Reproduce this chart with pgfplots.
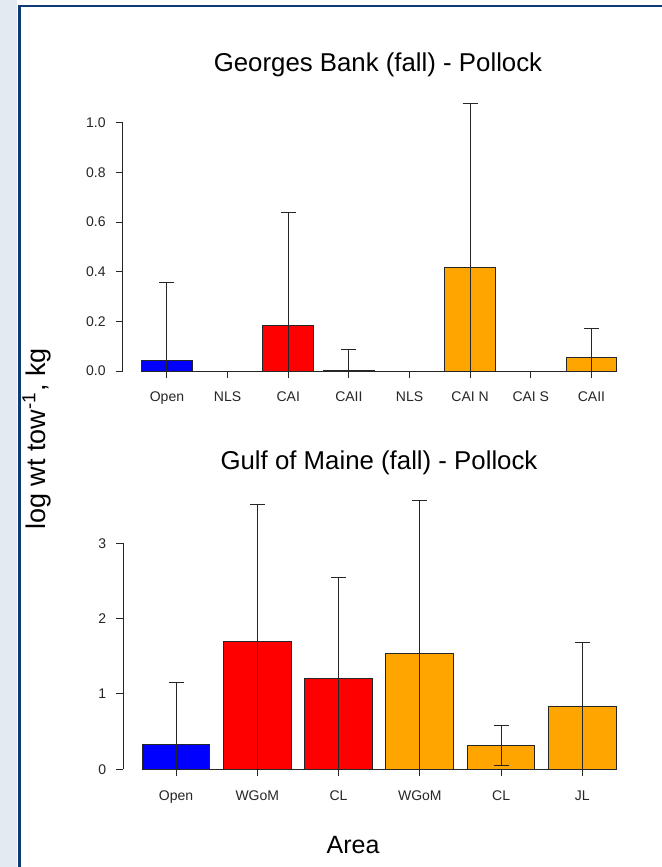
\documentclass[border=0pt]{standalone}
\usepackage{fontspec}
\setmainfont{Liberation Sans}
\usepackage{pgfplots}
\pgfplotsset{compat=1.18}

\definecolor{barblue}{RGB}{0,0,255}
\definecolor{barred}{RGB}{255,0,0}
\definecolor{barorange}{RGB}{255,165,0}
\definecolor{framenavy}{RGB}{14,58,118}
\definecolor{stripgray}{RGB}{228,234,242}
\colorlet{ink}{black!85}

\pgfplotsset{
  rbar/.style={
    scale only axis,
    clip=false,
    ymin=0,
    axis line style={draw=none},
    tick align=outside,
    xtick pos=bottom, ytick pos=left,
    major tick length=3.5pt,
    tick style={ink, line width=0.5pt},
    ticklabel style={font=\fontsize{7}{8}\selectfont, text=ink},
    xticklabel style={yshift=-3.5pt},
    yticklabel style={xshift=-1.5pt},
    bar width=0.8333,
  },
  rplot/.style={ybar, bar shift=0pt, draw=ink, line width=0.5pt},
  rerr/.style={error bars/.cd, y dir=both, y explicit,
    error bar style={ink, line width=0.5pt},
    error mark options={ink, line width=0.5pt, mark size=3.75pt, rotate=90}},
}

\begin{document}
\begin{tikzpicture}
\path[use as bounding box] (0,0) rectangle (331pt,-433.5pt);
\fill[white] (0,0) rectangle (331pt,-433.5pt);
\fill[stripgray] (0,0) rectangle (8.7pt,-433.5pt);
\draw[framenavy, line width=1.3pt] (9.6pt,-433.5pt) -- (9.6pt,-3pt) -- (331pt,-3pt);

% Georges Bank
\begin{axis}[rbar,
  at={(61.35pt,-185.5pt)}, anchor=south west,
  width=256.5pt, height=139.3pt,
  xmin=-0.73, xmax=7.73, ymax=1.122,
  xtick={0,...,7},
  xticklabels={Open,NLS,CAI,CAII,NLS,CAI N,CAI S,CAII},
  ytick={0,0.2,0.4,0.6,0.8,1.0},
  yticklabels={0.0,0.2,0.4,0.6,0.8,1.0},
]
\addplot[rplot, fill=barblue, rerr] coordinates {(0,0.041) += (0,0.314) -= (0,0.041)};
\addplot[rplot, fill=barred, rerr] coordinates {
  (2,0.185) += (0,0.452) -= (0,0.185)
  (3,0.003) += (0,0.084) -= (0,0.003)};
\addplot[rplot, fill=barorange, rerr] coordinates {
  (5,0.415) += (0,0.664) -= (0,0.415)
  (7,0.053) += (0,0.117) -= (0,0.053)};
\addplot[rplot, fill=white] coordinates {(1,0) (4,0) (6,0)};
\draw[ink, line width=0.5pt] (axis cs:-0.73,0) -- (axis cs:-0.73,1);
\draw[ink, line width=0.5pt] (axis cs:0,0) -- (axis cs:7,0);
\end{axis}

% Gulf of Maine
\begin{axis}[rbar,
  at={(61.6pt,-384.65pt)}, anchor=south west,
  width=256pt, height=139.75pt,
  xmin=-0.65, xmax=5.65, ymax=3.71,
  xtick={0,...,5},
  xticklabels={Open,WGoM,CL,WGoM,CL,JL},
  ytick={0,1,2,3},
  yticklabels={0,1,2,3},
]
\addplot[rplot, fill=barblue, rerr] coordinates {(0,0.332) += (0,0.818) -= (0,0.332)};
\addplot[rplot, fill=barred, rerr] coordinates {
  (1,1.703) += (0,1.817) -= (0,1.703)
  (2,1.199) += (0,1.350) -= (0,1.199)};
\addplot[rplot, fill=barorange, rerr] coordinates {
  (3,1.540) += (0,2.026) -= (0,1.540)
  (4,0.314) += (0,0.265) -= (0,0.265)
  (5,0.831) += (0,0.855) -= (0,0.831)};
\draw[ink, line width=0.5pt] (axis cs:-0.65,0) -- (axis cs:-0.65,3);
\draw[ink, line width=0.5pt] (axis cs:0,0) -- (axis cs:5,0);
\end{axis}

\node[font=\fontsize{12.9}{15}\selectfont] at (189pt,-32.5pt) {Georges Bank (fall) - Pollock};
\node[font=\fontsize{12.9}{15}\selectfont] at (189.5pt,-231.5pt) {Gulf of Maine (fall) - Pollock};
\node[font=\fontsize{12.5}{15}\selectfont] at (176.5pt,-422.5pt) {Area};
\node[font=\fontsize{13.5}{16}\selectfont, rotate=90] at (18.5pt,-219.5pt) {log wt tow\textsuperscript{-1}, kg};
\end{tikzpicture}
\end{document}
